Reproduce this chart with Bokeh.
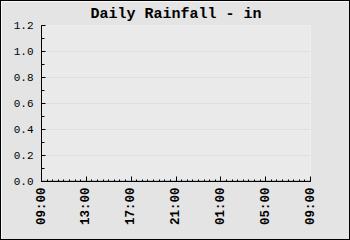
from bokeh.plotting import figure
from bokeh.models import FixedTicker, PrintfTickFormatter, Range1d
from bokeh.embed import file_html
from bokeh.resources import INLINE
import math

# data (hourly rainfall, inches)
hours = ["09:00", "10:00", "11:00", "12:00", "13:00", "14:00", "15:00", "16:00",
         "17:00", "18:00", "19:00", "20:00", "21:00", "22:00", "23:00", "00:00",
         "01:00", "02:00", "03:00", "04:00", "05:00", "06:00", "07:00", "08:00", "09:00"]
rain = [0.0, 0.0, 0.0, 0.0, 0.0, 0.0, 0.0, 0.0, 0.0, 0.0, 0.0, 0.0, 0.0,
        0.0, 0.0, 0.0, 0.0, 0.0, 0.0, 0.0, 0.0, 0.0, 0.0, 0.0, 0.0]
y_ticks = [0.0, 0.2, 0.4, 0.6, 0.8, 1.0, 1.2]
x_label_idx = [0, 4, 8, 12, 16, 20, 24]

xs = list(range(len(hours)))

p = figure(width=350, height=240, output_backend="svg", toolbar_location=None,
           title="Daily Rainfall - in",
           x_range=Range1d(0, len(hours) - 1), y_range=Range1d(0, 1.2),
           min_border_left=40, min_border_right=41, min_border_top=24, min_border_bottom=60)
p.styles = {"border": "1px solid black", "box-sizing": "border-box"}

p.background_fill_color = "#eaeaea"
p.border_fill_color = "#e4e4e4"
p.outline_line_color = None

p.title.text_font = "Liberation Mono"
p.title.text_font_size = "15px"
p.title.text_font_style = "bold"
p.title.align = "center"
p.title.text_color = "black"
p.title.standoff = 5

p.line(xs, rain, line_color="#8898a8", line_width=2)

xt = FixedTicker(ticks=x_label_idx, minor_ticks=[i * 0.5 for i in range(2 * (len(hours) - 1) + 1)])
p.xaxis.ticker = xt
p.xaxis.major_label_overrides = {i: hours[i] for i in x_label_idx}
p.xaxis.major_label_orientation = math.pi / 2
p.xaxis.major_label_text_font = "Liberation Mono"
p.xaxis.major_label_text_font_style = "bold"
p.xaxis.major_label_text_font_size = "12.5px"
p.xaxis.major_label_standoff = 6
p.xaxis.major_tick_in = 5
p.xaxis.major_tick_out = 0
p.xaxis.minor_tick_in = 2
p.xaxis.minor_tick_out = 0

yt = FixedTicker(ticks=y_ticks, minor_ticks=[i / 10 for i in range(13)])
p.yaxis.ticker = yt
p.yaxis.formatter = PrintfTickFormatter(format="%.1f")
p.yaxis.major_label_text_font = "Liberation Mono"
p.yaxis.major_label_text_font_size = "11px"
p.yaxis.major_label_standoff = 8
p.yaxis.major_tick_in = 4
p.yaxis.major_tick_out = 0
p.yaxis.minor_tick_in = 3
p.yaxis.minor_tick_out = 0

for ax in (p.xaxis, p.yaxis):
    ax.axis_line_color = "black"
    ax.major_tick_line_color = "black"
    ax.minor_tick_line_color = "black"
    ax.major_label_text_color = "black"

p.xgrid.grid_line_color = None
p.ygrid.grid_line_color = "#dedede"

open("out.html", "w").write(file_html(p, INLINE))
